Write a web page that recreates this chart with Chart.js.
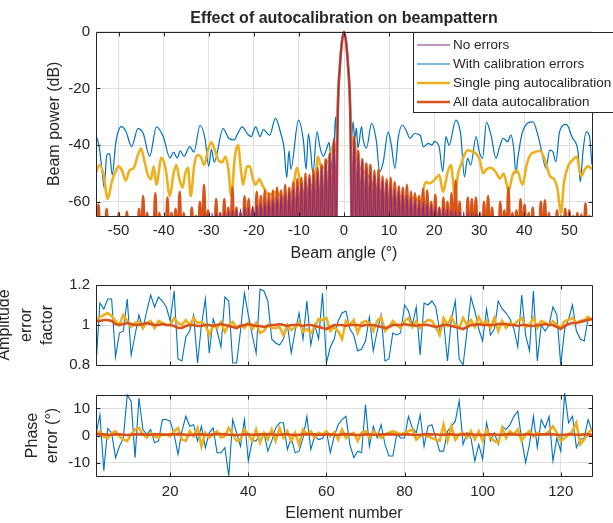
<!DOCTYPE html>
<html>
<head>
<meta charset="utf-8">
<title>Effect of autocalibration on beampattern</title>
<script src="https://cdn.jsdelivr.net/npm/chart.js@4.4.1/dist/chart.umd.min.js"></script>
<style>
  html, body { margin: 0; padding: 0; background: #fff; }
  body { width: 613px; height: 523px; position: relative; overflow: hidden; }
  canvas { position: absolute; left: 0; }
</style>
</head>
<body>
<canvas id="beamChart" width="613" height="270" style="top:0px"></canvas>
<canvas id="ampChart" width="613" height="110" style="top:270px"></canvas>
<canvas id="phaseChart" width="613" height="143" style="top:380px"></canvas>
<script>
// ==================== DATA ====================
const seriesNames = ["No errors", "With calibration errors", "Single ping autocalibration", "All data autocalibration"];
const seriesColors = ["#7E2F8E", "#0072BD", "#EDB120", "#D95319"];

const angleTicks = [-50, -40, -30, -20, -10, 0, 10, 20, 30, 40, 50];
const powerTicks = [-60, -40, -20, 0];
const elementTicks = [20, 40, 60, 80, 100, 120];
const ampTicks = [0.8, 1, 1.2];
const phaseTicks = [-10, 0, 10];

// beam angles sampled every 0.45 deg (sidelobe peaks and nulls alternate)
const lobeAngles = Array.from({ length: 245 }, (_, i) => Math.round((-54.9 + 0.45 * i) * 100) / 100);

const noErrorsDb = [
  -75,-70,-75,-70,-75,-70,-75,-70,-75,-70,-75,-70,-75,-70,-75,-70,-75,-70,-75,-70,-75,-70,-75,-70,
  -75,-70,-75,-70,-75,-70,-75,-70,-75,-70,-75,-70,-75,-70,-75,-70,-75,-70,-75,-70,-75,-70,-75,-70,
  -75,-65,-75,-65,-75,-64.5,-75,-64.5,-75,-64,-75,-64,-75,-64,-75,-63.5,-75,-63.5,-75,-63,-75,-63,
  -75,-62.5,-75,-62,-75,-62,-75,-61.5,-75,-61,-75,-60.5,-75,-60,
  -75,-59.5,-75,-59,-75,-58.5,-75,-57.5,-75,-57,-75,-56,-75,-55.5,-75,-54.5,-75,-53.5,-75,-52.5,
  -75,-51.5,-75,-50.5,-75,-49.5,-75,-48,-75,-45.5,-75,-43,-75,-37.5,
  -75,-26,-12,-3.5,0,-3.5,-12,-26,-75,
  -37.5,-75,-43,-75,-45.5,-75,-48,-75,-49.5,-75,-50.5,-75,-51.5,-75,-52.5,-75,-53.5,-75,-54.5,-75,
  -55.5,-75,-56,-75,-57,-75,-57.5,-75,-58.5,-75,-59,-75,-59.5,-75,
  -60,-75,-60.5,-75,-61,-75,-61.5,-75,-62,-75,-62,-75,-62.5,-75,-63,-75,-63,-75,-63.5,-75,-63.5,-75,
  -64,-75,-64,-75,-64,-75,-64.5,-75,-64.5,-75,-65,-75,-65,-75,
  -70,-75,-70,-75,-70,-75,-70,-75,-70,-75,-70,-75,-70,-75,-70,-75,-70,-75,-70,-75,-70,-75,-70,-75,
  -70,-75,-70,-75,-70,-75,-70,-75,-70,-75,-70,-75,-70,-75,-70,-75,-70,-75,-70,-75,-70,-75,-70,-75
];

const allDataDb = [
  -75,-61,-75,-66,-75,-62.5,-75,-68,-75,-67,-75,-64,-75,-68,-75,-63.5,-75,-67,-75,-66,
  -75,-62.5,-75,-58,-75,-64,-75,-66,-75,-57,-75,-64,-75,-66,-75,-58.5,-75,-64,-75,-62.5,
  -75,-56.5,-75,-64,-75,-66,-75,-62,-75,-65,-75,-60,-75,-54,-75,-63,-75,-66,-75,-59,
  -75,-64,-75,-59,-75,-62,-75,-55,-75,-62,-75,-64,-75,-58,-75,-59,-75,-62,-75,-56.5,
  -75,-58,-75,-56,-75,-57,-75,-56,-75,-55,-75,-56,-75,-54,-75,-55,-75,-53,-75,-52,
  -75,-51.5,-75,-50,-75,-50.5,-75,-48.5,-75,-48,-75,-47,-75,-45,-75,-43,-75,-38.5,
  -75,-26,-12,-3.5,0,-3.5,-12,-26,-75,
  -37,-75,-42,-75,-45,-75,-46.5,-75,-47,-75,-49,-75,-48.5,-75,-51,-75,-52,-75,-51.5,-75,
  -53,-75,-54.5,-75,-55,-75,-54,-75,-56.5,-75,-57,-75,-58,-75,-55.5,-75,-56,-75,-60,-75,
  -57.5,-75,-62,-75,-58.5,-75,-60,-75,-57,-75,-52.5,-75,-60,-75,-66,-75,-58.5,-75,-59,-75,
  -58.5,-75,-64,-75,-60,-75,-58,-75,-62,-75,-66,-75,-60,-75,-63,-75,-55,-75,-64,-75,
  -63,-75,-59,-75,-61,-75,-64,-75,-62,-75,-66,-75,-60,-75,-59.5,-75,-64,-75,-67,-75,
  -63,-75,-65,-75,-62.5,-75,-63,-75,-65,-75,-64,-75,-64.5,-75,-60.5,-75,-65,-75
];

const calErrAngles = [
  -55,-54.3,-53.6,-53.2,-52.6,-52,-51.4,-50.6,-49.4,-48.4,-47.1,-45.7,-44.5,-43.1,-41.6,-40.1,
  -38.6,-37.8,-37,-36.3,-35.5,-34.2,-33.3,-31.9,-30.8,-30,-29.4,-28.8,-26.8,-25.6,-24.4,-23.6,
  -22.6,-21.4,-20.6,-19.6,-18.6,-17.9,-16.5,-15.2,-14,-13.3,-12.7,-12.2,-11.8,-10.1,-9,-8.4,
  -7.9,-7.4,-6.9,-6,-5.3,-4.6,-3.9,-3.3,-2.9,-2.4,-1.9,-1.65,-1.35,-0.9,-0.45,0,
  0.45,0.9,1.35,1.7,2,2.4,2.75,3.1,3.9,4.2,5,6.1,7.2,7.9,8.7,9.8,10.5,11.3,12,13,13.9,14.6,
  15.7,16.9,17.6,18.7,19.5,20,21.1,21.9,22.6,23.3,24.8,25.9,26.7,27.4,28.1,29.3,30,30.7,31.6,
  32.6,33.7,34.4,35.3,36.3,37,37.7,38.1,38.6,39.6,41.9,43,43.7,44.8,45.6,46.3,47,47.8,49.3,
  50.7,51.9,52.4,53,53.7,54.4,55
];
const calErrDb = [
  -36.5,-40.5,-50,-55,-43.5,-43,-50.5,-39,-33.5,-35,-40.5,-34.2,-36,-44,-33.6,-37,
  -44.5,-42.5,-44.5,-42,-44,-40.5,-42.5,-33,-38,-47.5,-41.5,-46,-34.2,-37.5,-38.2,-36,
  -33.6,-36,-37,-33.6,-37,-34.5,-36.5,-30.6,-36,-41,-51.5,-42,-48.5,-31.2,-38.5,-48.5,
  -36,-42,-50,-35.3,-41,-44,-41.5,-39,-46,-49.5,-30,-38,-26,-12,-3.5,0,
  -3.5,-12,-26,-38,-31.8,-37.6,-34,-41,-33.5,-37.6,-41,-32.4,-38.8,-49.4,-46,-35.3,-40,-48.2,-37.6,-32.9,-35.3,-37.6,
  -35.9,-36.5,-40.6,-39.4,-40,-38.8,-40.6,-49.4,-37,-40,-31.2,-36.5,-51.2,-44.7,-47,-37,-42.3,-44.7,-32,
  -36.5,-44.7,-41.2,-37.6,-38.8,-36.5,-42,-50,-44,-35.3,-31.8,-36.5,-41.2,-48.2,-41.8,-42.3,-45.9,-35.3,-32.7,
  -37.6,-42.3,-53,-42.3,-35.3,-36.5,-47
];

const singlePingAngles = [
  -55,-54.2,-53.3,-52.4,-51.5,-50.7,-50,-49.2,-48.4,-47.6,-46.6,-45.7,-45,-44.2,-43.5,-42.8,
  -42.2,-41.6,-40.5,-39.6,-38.6,-37.8,-37.2,-36.5,-35.8,-35.2,-34.6,-34,-33.2,-32.5,-31.8,-31,
  -30.2,-29.4,-28.6,-27.8,-27,-26.3,-25.6,-25,-24.2,-23.5,-22.9,-22.4,-21.5,-20.9,-20.2,-19.6,
  -18.8,-18,-16.6,-15,-14,-12.5,-11.4,-10.4,-9.5,-8.5,-7.4,-6.5,-5.8,-5,-4,-2.8,-2.3,-1.8,
  -1.35,-0.9,-0.45,0,0.45,0.9,1.35,1.8,2.4,2.75,3.5,4.3,5.3,6.5,8,9.4,11,12.5,14,15.5,17,
  18.1,18.9,20,21.1,22,23,23.7,24.6,25.3,25.9,26.7,27.4,28.5,29.3,30,30.9,31.6,32.6,33.6,
  34.6,35.4,36.5,37.4,38.4,39.6,40.5,41.3,42.3,43.5,44.6,45.7,46.6,47.4,48.1,48.8,49.8,50.6,
  51.6,52.6,53.4,54.2,55
];
const singlePingDb = [
  -49.5,-47,-50.5,-59,-53,-49.5,-47.5,-49,-52.5,-49,-48,-43.5,-41.2,-46,-50.5,-52,
  -47.5,-54,-44.5,-48,-58,-50,-47,-52,-55,-50,-48,-58,-47,-43.5,-44,-47,
  -42,-39,-42,-45.5,-46,-44,-49,-58,-44,-40,-48,-54,-47.5,-47.5,-52,-54,
  -52,-54.5,-57.5,-56.5,-58,-60,-56,-48,-55,-57,-54,-55,-44,-48,-47,-42.5,-39.5,-42,
  -26,-12,-3.5,0,-3.5,-12,-26,-40,-38.8,-43.5,-48,-49,-50.6,-54,-56.5,-57.6,-59,-58,-60,-58.5,-60,
  -53,-53.5,-52.4,-50.6,-56.5,-49.4,-47,-57.6,-50,-47,-43.5,-41.8,-42.3,-43,-44.7,-50,-48.5,-48,-49.4,
  -51.8,-50,-56,-50.5,-49,-54,-47,-43.5,-42.5,-42,-45.5,-51,-52,-56,-64,-53,-47,-45.5,
  -44,-51,-48.5,-47.5,-48.5
];

// element-wise calibration values
const elements = Array.from({ length: 128 }, (_, i) => i + 1);

const ampCalErr = [
  0.80,1.11,1.08,1.13,1.13,0.84,0.96,0.97,1.13,0.85,0.95,1.05,0.98,1.07,1.15,1.09,1.14,1.12,1.09,1.02,
  1.17,0.83,0.82,0.94,0.97,1.05,0.81,1.0,1.13,0.86,1.03,0.97,0.89,1.14,1.12,0.81,0.81,0.97,1.16,1.05,
  0.95,0.86,1.18,1.17,1.12,0.93,0.91,0.90,0.93,1.0,0.86,0.97,1.06,0.93,1.12,0.90,1.0,0.93,1.16,0.81,
  0.89,0.93,1.02,1.06,1.07,0.98,0.95,0.87,0.88,0.92,1.04,0.87,0.97,1.05,0.82,0.83,0.96,0.95,0.96,1.10,
  1.07,1.0,1.09,0.85,1.11,1.10,1.12,1.09,0.97,1.02,0.82,1.03,1.12,0.83,0.80,0.97,1.14,1.07,0.98,0.92,
  1.08,0.95,0.98,1.12,1.08,1.06,1.03,0.98,0.89,1.15,0.95,0.87,1.17,0.82,1.0,0.97,1.0,1.09,1.05,0.80,
  0.98,1.03,1.10,0.97,0.93,0.92,1.03,1.03
];
const ampSinglePing = [
  1.025,1.04,1.05,1.06,1.045,1.02,1.0,1.05,1.02,0.99,1.01,1.015,0.985,1.01,1.02,0.985,1.02,1.01,1.0,1.0,
  1.035,1.01,1.0,1.025,1.0,1.035,1.01,1.015,1.0,0.95,1.0,0.985,1.015,0.965,1.0,1.015,0.985,1.0,0.985,1.01,
  0.98,1.01,0.96,0.97,1.0,0.985,0.985,0.99,0.95,1.0,0.975,0.99,1.015,0.965,0.98,0.96,0.99,1.03,1.025,1.035,
  0.97,0.99,0.97,0.93,1.02,1.0,1.025,0.96,1.01,1.02,1.01,0.97,1.02,1.04,0.97,0.99,1.02,1.0,0.985,1.02,
  1.035,0.99,1.02,0.985,1.01,1.025,1.02,0.99,0.95,1.035,1.0,1.04,1.0,0.985,1.035,1.0,1.025,0.99,1.04,1.0,
  1.02,0.985,1.035,0.97,1.02,0.985,1.01,1.0,1.02,1.035,0.99,1.0,1.035,0.985,1.02,1.01,1.0,1.02,1.0,0.985,
  1.02,1.025,1.035,1.01,1.02,1.025,1.04,1.025
];
const ampAllData = [
  1.02,1.02,1.025,1.025,1.02,1.005,1.0,1.005,1.01,1.005,1.0,1.0,1.005,1.01,1.005,1.0,1.0,1.005,1.0,1.0,
  0.995,0.985,0.985,0.995,1.0,1.0,0.995,0.995,1.0,1.0,0.995,1.0,1.005,1.0,0.995,0.99,0.985,0.995,1.0,1.005,
  1.0,0.995,0.995,0.99,0.995,1.0,1.0,1.005,1.0,0.995,1.0,1.0,1.0,0.995,1.0,1.0,0.995,0.99,0.985,0.98,
  0.99,1.0,1.0,1.0,0.995,1.0,1.0,1.0,0.995,1.0,1.0,1.0,0.995,0.99,0.985,0.99,1.0,1.0,1.0,1.005,
  1.0,1.0,0.995,1.0,1.0,1.0,0.995,0.99,0.995,1.0,1.0,0.995,0.99,0.985,0.98,0.99,1.0,1.0,1.005,1.0,
  1.0,1.0,1.0,1.005,1.005,1.005,1.0,1.0,0.995,1.0,1.0,0.995,0.995,1.0,1.0,1.005,1.0,1.0,0.99,0.98,
  0.995,1.005,1.01,1.01,1.015,1.02,1.025,1.03
];

const phaseCalErr = [
  0.4,7.7,-13,2.6,1,-8.2,-4,-1,15,12.6,-8.2,13.9,2.2,0.4,2.2,-2.7,-2,5.9,5.9,5.3,
  0.4,-7,1.6,7.1,3.4,4,-2,3.4,-4.5,1,2.8,-6.4,-6.4,-4.5,-15,5.9,1,-4,5.9,-9.4,
  -2,-2,0.4,1,-5.8,-2,2.8,4.7,4.7,-5.2,-1,-6.4,-5.8,-1,7.1,-5.2,-0.2,-1.5,-1,1.6,
  -6.4,-0.2,4,5.9,7.1,-3.3,-8.2,-5.8,-6.4,11.4,-4,3.4,-0.9,4,-3.3,-7.6,-7.6,0.4,-0.9,-0.9,
  7.1,2.8,1,7.7,-4,3.4,4,-0.9,-5.8,-5.8,1.6,3.4,5.3,12.9,-3.3,1,-0.9,-9.4,-3.3,-8.8,
  4.7,-2,1,-3.3,3.4,2.2,4,7.1,9,-1.5,-10,-3.3,7.1,-4.5,5.9,2.8,7.1,-9.4,-0.9,-5.8,
  15.7,4.7,7.1,-4.5,-1.5,-0.9,5.9,1.6
];
const phaseSinglePing = [
  0.4,1.5,-0.5,-1,0.8,1.6,-0.3,-1.5,-2,0.4,2.2,2.8,0.4,-0.8,1,-0.3,-0.8,0.5,0.4,-0.3,
  1.6,2.8,-1.5,-2,1.6,-0.3,2.8,-4,1,-0.8,0.4,1.6,-0.8,-0.3,2.8,0.4,-2,-1.5,2.2,0.4,
  -2,2.2,-2.7,1,-1.5,2.2,-2,2.8,-0.8,1.6,-2,1,-3.3,2.2,0.4,1.6,-0.8,1,0.4,1.6,
  -0.3,1.2,-1.5,2.2,-0.9,0.4,1,-2,1,1.6,-0.9,1.6,0.4,-0.9,0.4,1,1.6,1,0.4,1,
  1.6,2.2,-1.5,-0.3,0.4,-0.3,-0.9,-1.5,-2,4,-2,3.4,-1.5,0.4,1,-0.9,1.6,-1.5,1.6,-2,
  2.2,-0.9,-2,-2.7,2.8,-0.9,1.6,0.4,2.2,-2,0.4,1.6,-0.3,1,0.4,0.4,1.6,3.4,1,-2,
  -0.9,0.4,1.6,4.7,-3.3,-1.5,1,2.2
];
const phaseAllData = [
  0.5,0.4,0.4,0.3,0.3,0.4,0.4,0.3,0.2,0.3,0.4,0.5,0.4,0.3,0.3,0.4,0.4,0.3,0.3,0.4,
  0.4,0.5,0.4,0.3,0.2,0.3,0.4,0.4,0.3,0.3,0.4,0.5,0.5,0.4,0.3,0.3,0.2,0.3,0.4,0.4,
  0.3,0.3,0.4,0.4,0.5,0.4,0.3,0.3,0.4,0.4,0.3,0.2,0.3,0.4,0.5,0.4,0.4,0.3,0.3,0.4,
  0.4,0.3,0.3,0.4,0.5,0.4,0.3,0.2,0.3,0.4,0.4,0.3,0.3,0.4,0.4,0.5,0.4,0.3,0.3,0.4,
  0.4,0.3,0.2,0.3,0.4,0.5,0.4,0.4,0.3,0.3,0.4,0.4,0.3,0.3,0.4,0.5,0.4,0.3,0.3,0.2,
  0.3,0.4,0.4,0.3,0.3,0.4,0.5,0.4,0.3,0.3,0.4,0.4,0.3,0.3,0.4,0.4,0.5,0.4,0.3,0.2,
  0.3,0.4,0.4,0.3,0.3,0.4,0.4,0.3
];

// ==================== STYLE ====================
const FONT = "'Liberation Sans', Arial, Helvetica, sans-serif";
const TEXT = "#262626";
const GRID = "#dfdfdf";
const THIN = 1.2, THICK = 2.6;

Chart.defaults.font.family = FONT;
Chart.defaults.color = TEXT;
Chart.defaults.animation = false;

const toPoints = (xs, ys) => xs.map((x, i) => ({ x, y: ys[i] }));
const fixTicks = (list) => (scale) => { scale.ticks = list.map(v => ({ value: v })); };

const lineSet = (name, pts, color, width, order, smooth) => ({
  label: name, data: pts, borderColor: color, borderWidth: width, order,
  pointRadius: 0, fill: false, tension: 0,
  cubicInterpolationMode: smooth ? "monotone" : "default",
  clip: { left: 0, right: 0, top: 4, bottom: 0 }
});

// box round the axes with inward tick marks (matlab look)
const axesBox = {
  id: "axesBox",
  afterDatasetsDraw(chart) {
    const { ctx, chartArea: a, scales: { x, y } } = chart;
    const L = Math.round(a.left) + 0.5, R = Math.round(a.right) + 0.5;
    const T = Math.round(a.top) + 0.5, B = Math.round(a.bottom) + 0.5;
    ctx.save();
    ctx.strokeStyle = TEXT;
    ctx.lineWidth = 1;
    ctx.beginPath();
    x.ticks.forEach(t => {
      const px = Math.round(x.getPixelForValue(t.value)) + 0.5;
      ctx.moveTo(px, B); ctx.lineTo(px, B - 4);
      ctx.moveTo(px, T); ctx.lineTo(px, T + 4);
    });
    y.ticks.forEach(t => {
      const py = Math.round(y.getPixelForValue(t.value)) + 0.5;
      ctx.moveTo(L, py); ctx.lineTo(L + 4, py);
      ctx.moveTo(R, py); ctx.lineTo(R - 4, py);
    });
    ctx.rect(L, T, R - L, B - T);
    ctx.stroke();
    ctx.restore();
  }
};

// legend box inside the top axes
const legendBox = {
  id: "legendBox",
  afterDraw(chart) {
    const ctx = chart.ctx;
    const x0 = 413, y0 = Math.round(chart.chartArea.top), w = 220, h = 80;
    const widths = [THIN, THIN, THICK, THICK];
    ctx.save();
    ctx.fillStyle = "#fff";
    ctx.fillRect(x0, y0, w, h);
    ctx.strokeStyle = TEXT;
    ctx.lineWidth = 1;
    ctx.strokeRect(x0 + 0.5, y0 + 0.5, w, h);
    ctx.font = "13.5px " + FONT;
    ctx.textBaseline = "middle";
    seriesNames.forEach((name, i) => {
      const yy = y0 + 13 + i * 19;
      ctx.strokeStyle = seriesColors[i];
      ctx.lineWidth = widths[i];
      ctx.beginPath();
      ctx.moveTo(417, yy); ctx.lineTo(450, yy);
      ctx.stroke();
      ctx.fillStyle = TEXT;
      ctx.fillText(name, 453, yy);
    });
    ctx.restore();
  }
};

const tickFont = { size: 15 };
const labelFont = { size: 16 };
const plain = v => String(v);

const baseOpts = (extra) => ({
  responsive: false,
  devicePixelRatio: 1,
  events: [],
  plugins: { legend: { display: false }, tooltip: { enabled: false }, ...(extra.plugins || {}) },
  layout: extra.layout,
  scales: extra.scales
});

// ==================== BEAMPATTERN ====================
new Chart(document.getElementById("beamChart"), {
  type: "line",
  data: {
    datasets: [
      lineSet(seriesNames[0], toPoints(lobeAngles, noErrorsDb), seriesColors[0], THIN, 0, true),
      lineSet(seriesNames[3], toPoints(lobeAngles, allDataDb), seriesColors[3], THICK, 1, true),
      lineSet(seriesNames[2], toPoints(singlePingAngles, singlePingDb), seriesColors[2], THICK, 2, true),
      lineSet(seriesNames[1], toPoints(calErrAngles, calErrDb), seriesColors[1], THIN, 3, true)
    ]
  },
  options: baseOpts({
    plugins: {
      title: {
        display: true, text: "Effect of autocalibration on beampattern", fullSize: false,
        color: TEXT, font: { size: 16, weight: "bold" }, padding: { top: 9, bottom: 3.5 }
      }
    },
    layout: { padding: { top: 0, right: 21, bottom: 0, left: 0 } },
    scales: {
      x: {
        type: "linear", min: -55, max: 55,
        afterBuildTicks: fixTicks(angleTicks),
        afterFit: s => { s.height = 54; },
        grid: { color: GRID, drawTicks: false }, border: { display: false },
        ticks: { padding: 6, font: tickFont, color: TEXT, maxRotation: 0, autoSkip: false, callback: plain },
        title: { display: true, text: "Beam angle (°)", font: labelFont, color: TEXT, padding: { top: 0, bottom: 7 } }
      },
      y: {
        type: "linear", min: -65, max: 0,
        afterBuildTicks: fixTicks(powerTicks),
        afterFit: s => { s.width = 96; },
        grid: { color: GRID, drawTicks: false }, border: { display: false },
        ticks: { padding: 6, font: tickFont, color: TEXT, callback: plain },
        title: { display: true, text: "Beam power (dB)", font: labelFont, color: TEXT, padding: { top: 45, bottom: 0 } }
      }
    }
  }),
  plugins: [axesBox, legendBox]
});

// ==================== AMPLITUDE ERROR ====================
new Chart(document.getElementById("ampChart"), {
  type: "line",
  data: {
    datasets: [
      lineSet(seriesNames[3], toPoints(elements, ampAllData), seriesColors[3], THICK, 0, false),
      lineSet(seriesNames[2], toPoints(elements, ampSinglePing), seriesColors[2], THICK, 1, false),
      lineSet(seriesNames[1], toPoints(elements, ampCalErr), seriesColors[1], 1.1, 2, false)
    ]
  },
  options: baseOpts({
    layout: { padding: { top: 15, right: 21, bottom: 0, left: 0 } },
    scales: {
      x: {
        type: "linear", min: 1, max: 128,
        afterBuildTicks: fixTicks(elementTicks),
        afterFit: s => { s.height = 14; },
        grid: { color: GRID, drawTicks: false }, border: { display: false },
        ticks: { display: false }
      },
      y: {
        type: "linear", min: 0.8, max: 1.2,
        afterBuildTicks: fixTicks(ampTicks),
        afterFit: s => { s.width = 96; },
        grid: { color: GRID, drawTicks: false }, border: { display: false },
        ticks: { padding: 6, font: tickFont, color: TEXT, callback: plain },
        title: {
          display: true, text: ["Amplitude", "error", "factor"],
          font: { size: 16, lineHeight: "21.5px" }, color: TEXT, padding: { top: -6, bottom: 0 }
        }
      }
    }
  }),
  plugins: [axesBox]
});

// ==================== PHASE ERROR ====================
new Chart(document.getElementById("phaseChart"), {
  type: "line",
  data: {
    datasets: [
      lineSet(seriesNames[3], toPoints(elements, phaseAllData), seriesColors[3], THICK, 0, false),
      lineSet(seriesNames[2], toPoints(elements, phaseSinglePing), seriesColors[2], THICK, 1, false),
      lineSet(seriesNames[1], toPoints(elements, phaseCalErr), seriesColors[1], 1.1, 2, false)
    ]
  },
  options: baseOpts({
    layout: { padding: { top: 13, right: 21, bottom: 0, left: 0 } },
    scales: {
      x: {
        type: "linear", min: 1, max: 128,
        afterBuildTicks: fixTicks(elementTicks),
        afterFit: s => { s.height = 47; },
        grid: { color: GRID, drawTicks: false }, border: { display: false },
        ticks: { padding: 7, font: tickFont, color: TEXT, maxRotation: 0, autoSkip: false, callback: plain },
        title: { display: true, text: "Element number", font: labelFont, color: TEXT, padding: { top: 0, bottom: 0 } }
      },
      y: {
        type: "linear", min: -15, max: 15,
        afterBuildTicks: fixTicks(phaseTicks),
        afterFit: s => { s.width = 96; },
        grid: { color: GRID, drawTicks: false }, border: { display: false },
        ticks: { padding: 6, font: tickFont, color: TEXT, callback: plain },
        title: {
          display: true, text: ["Phase", "error (°)"],
          font: { size: 16, lineHeight: "20px" }, color: TEXT, padding: { top: 23, bottom: 0 }
        }
      }
    }
  }),
  plugins: [axesBox]
});
</script>
</body>
</html>
